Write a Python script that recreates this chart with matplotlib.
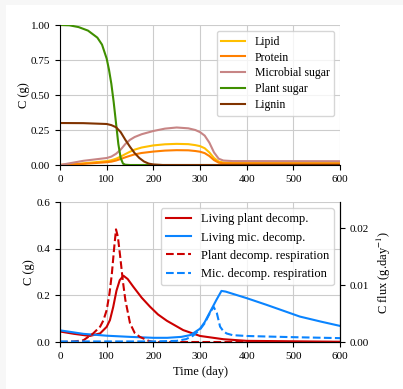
import matplotlib
matplotlib.use("Agg")
import matplotlib.pyplot as plt
from matplotlib.patches import Rectangle

plt.rcParams['font.family'] = ['Liberation Serif', 'DejaVu Serif']
plt.rcParams['mathtext.fontset'] = 'stix'
plt.rcParams['font.size'] = 8

# ---- top panel: carbon pools (g) ----
sugar_days = [0, 20, 40, 60, 80, 90, 100, 105, 110, 115, 120, 125, 130, 135, 140, 150, 600]
plant_sugar = [1.0, 0.998, 0.985, 0.96, 0.91, 0.86, 0.76, 0.68, 0.58, 0.45, 0.3, 0.15, 0.05, 0.01, 0.002, 0.0, 0.0]

lignin_days = [0, 50, 100, 110, 120, 130, 140, 150, 160, 170, 180, 190, 200, 220, 600]
lignin = [0.3, 0.299, 0.293, 0.285, 0.27, 0.235, 0.18, 0.13, 0.085, 0.05, 0.025, 0.01, 0.004, 0.0, 0.0]

mic_days = [0, 50, 100, 110, 120, 130, 140, 150, 160, 175, 200, 225, 250, 275, 290,
            300, 310, 320, 330, 340, 350, 370, 600]
mic_sugar = [0.0, 0.03, 0.05, 0.06, 0.08, 0.11, 0.15, 0.18, 0.2, 0.22, 0.243, 0.26, 0.268, 0.262, 0.25,
             0.235, 0.21, 0.16, 0.09, 0.045, 0.032, 0.028, 0.027]
lipid = [0.0, 0.012, 0.028, 0.034, 0.045, 0.06, 0.078, 0.095, 0.11, 0.125, 0.14, 0.148, 0.151, 0.149, 0.142,
         0.135, 0.12, 0.09, 0.05, 0.025, 0.018, 0.016, 0.015]
protein = [0.0, 0.008, 0.02, 0.024, 0.032, 0.043, 0.055, 0.066, 0.076, 0.086, 0.096, 0.103, 0.106, 0.105, 0.1,
           0.095, 0.085, 0.064, 0.035, 0.017, 0.012, 0.011, 0.01]

# ---- bottom panel: living decomposers (g) and respiration flux (g/day) ----
plant_dec_days = [0, 30, 64, 86, 100, 107, 114, 121, 128, 136, 145, 157, 175, 193, 210, 229, 264, 300, 350, 400, 600]
plant_dec = [0.045, 0.035, 0.026, 0.037, 0.065, 0.094, 0.15, 0.22, 0.265, 0.284, 0.27, 0.237, 0.19, 0.151, 0.118,
             0.091, 0.051, 0.026, 0.012, 0.005, 0.001]

mic_dec_days = [0, 50, 100, 150, 200, 230, 260, 280, 300, 310, 320, 335, 346, 355, 371, 400, 443, 480, 514, 560, 600]
mic_dec = [0.05, 0.035, 0.027, 0.022, 0.018, 0.018, 0.022, 0.03, 0.057, 0.085, 0.123, 0.18, 0.219, 0.216, 0.206,
           0.188, 0.159, 0.133, 0.109, 0.087, 0.069]

plant_resp_days = [0, 14, 30, 50, 71, 86, 93, 100, 106, 111, 116, 120, 124, 129, 135, 140, 150, 160, 171, 190, 200, 600]
plant_resp = [0.0, 0.00004, 0.0001, 0.0003, 0.0015, 0.0027, 0.0038, 0.0056, 0.0085, 0.0119, 0.0165, 0.0198,
              0.0185, 0.015, 0.0105, 0.0074, 0.0033, 0.0016, 0.0009, 0.0002, 0.0, 0.0]

mic_resp_days = [0, 100, 200, 250, 270, 285, 300, 310, 320, 329, 336, 343, 350, 357, 370, 400, 450, 500, 600]
mic_resp = [0.0001, 0.0001, 0.0001, 0.0002, 0.0005, 0.0011, 0.0022, 0.0033, 0.0049, 0.0062, 0.0051, 0.0027,
            0.0019, 0.0015, 0.0012, 0.00106, 0.00095, 0.00085, 0.00068]

fig = plt.figure(figsize=(4.03, 3.89), dpi=100, facecolor='#f7f7f7')
fig.patches.append(Rectangle((6 / 403, 0), 1, 1 - 5 / 389, transform=fig.transFigure,
                             facecolor='white', edgecolor='none', zorder=-10))

ax1 = fig.add_axes([0.1489, 0.5758, 0.6948, 0.3599])
ax2 = fig.add_axes([0.1489, 0.1208, 0.6948, 0.3599])

grid_kw = dict(color='#cccccc', linewidth=0.8)

# top
ax1.plot(mic_days, lipid, color='#ffbf00', lw=1.5, label='Lipid')
ax1.plot(mic_days, protein, color='#ff8000', lw=1.5, label='Protein')
ax1.plot(mic_days, mic_sugar, color='#c78585', lw=1.5, label='Microbial sugar')
ax1.plot(sugar_days, plant_sugar, color='#3f8f00', lw=1.5, label='Plant sugar')
ax1.plot(lignin_days, lignin, color='#803300', lw=1.5, label='Lignin')
ax1.set_xlim(0, 600)
ax1.set_ylim(0, 1)
ax1.set_yticks([0, 0.25, 0.5, 0.75, 1.0])
ax1.set_yticklabels(['0.00', '0.25', '0.50', '0.75', '1.00'])
ax1.set_ylabel('C (g)', fontsize=9, labelpad=1)
ax1.grid(True, **grid_kw)
ax1.set_axisbelow(True)
ax1.spines['top'].set_visible(False)
ax1.spines['right'].set_visible(False)
ax1.legend(loc='upper right', fontsize=8.5, labelspacing=0.33)

# bottom
ax2.plot(plant_dec_days, plant_dec, color='#cc0000', lw=1.5)
ax2.plot(mic_dec_days, mic_dec, color='#0a84ff', lw=1.5)
ax2.set_xlim(0, 600)
ax2.set_ylim(0, 0.6)
ax2.set_yticks([0, 0.2, 0.4, 0.6])
ax2.set_ylabel('C (g)', fontsize=9, labelpad=1)
ax2.set_xlabel('Time (day)', fontsize=9)
ax2.grid(True, **grid_kw)
ax2.set_axisbelow(True)
ax2.spines['top'].set_visible(False)

ax3 = ax2.twinx()
ax3.plot(plant_resp_days, plant_resp, color='#cc0000', lw=1.5, ls='--')
ax3.plot(mic_resp_days, mic_resp, color='#0a84ff', lw=1.5, ls='--')
ax3.set_ylim(0, 0.0246)
ax3.set_yticks([0, 0.01, 0.02])
ax3.set_yticklabels(['0.00', '0.01', '0.02'])
ax3.set_ylabel('C flux (g.day$^{-1}$)', fontsize=9)
ax3.spines['top'].set_visible(False)

handles = ax2.get_lines() + ax3.get_lines()
labels = ['Living plant decomp.', 'Living mic. decomp.',
          'Plant decomp. respiration', 'Mic. decomp. respiration']
ax3.legend(handles, labels, loc='upper right', fontsize=9)

fig.savefig('out.png', dpi=100, facecolor=fig.get_facecolor())
